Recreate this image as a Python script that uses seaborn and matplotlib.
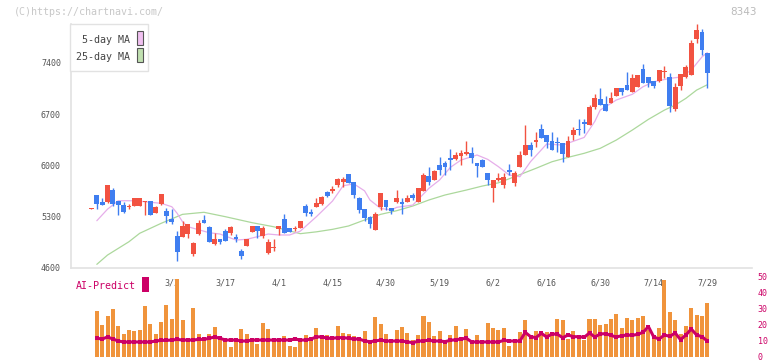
import numpy as np
import pandas as pd
import matplotlib
matplotlib.use("Agg")
import matplotlib.pyplot as plt
import seaborn as sns
from matplotlib.patches import Rectangle

# daily candles (index 0 .. 115)
opens = [5405, 5593, 5497, 5493, 5661, 5515, 5452, 5425, 5447, 5447,
         5500, 5511, 5351, 5466, 5379, 5265, 5033, 5023, 5060, 4791,
         5064, 5251, 5156, 4928, 4992, 5101, 5074, 5019, 4828, 4901,
         5092, 5169, 5037, 4805, 4870, 5124, 5261, 5138, 5130, 5142,
         5443, 5361, 5433, 5474, 5634, 5648, 5730, 5771, 5880, 5767,
         5548, 5402, 5292, 5115, 5425, 5525, 5411, 5502, 5484, 5502,
         5593, 5502, 5652, 5852, 5798, 6000, 6035, 6094, 6080, 6126,
         6158, 6163, 6035, 6071, 5898, 5693, 5798, 5734, 5935, 5761,
         5980, 6140, 6276, 6321, 6494, 6412, 6331, 6317, 6299, 6117,
         6412, 6485, 6586, 6549, 6799, 6904, 6836, 6845, 6950, 7055,
         7096, 7004, 7073, 7310, 7209, 7146, 7146, 7270, 7209, 6764,
         7087, 7200, 7232, 7720, 7820, 7537]
highs = [5415, 5593, 5552, 5730, 5689, 5515, 5500, 5475, 5552, 5552,
         5515, 5515, 5440, 5611, 5410, 5398, 5101, 5238, 5197, 4947,
         5247, 5320, 5170, 5074, 4992, 5124, 5174, 5056, 4850, 4992,
         5169, 5169, 5169, 4997, 4997, 5169, 5334, 5138, 5169, 5242,
         5470, 5402, 5548, 5584, 5652, 5716, 5830, 5840, 5885, 5767,
         5566, 5402, 5310, 5356, 5625, 5525, 5411, 5661, 5548, 5589,
         5625, 5685, 5898, 5976, 5935, 6108, 6062, 6222, 6176, 6208,
         6331, 6253, 6035, 6080, 5898, 5798, 5898, 5889, 6017, 5925,
         6190, 6549, 6317, 6458, 6563, 6412, 6454, 6390, 6299, 6399,
         6526, 6626, 6636, 6822, 6972, 7051, 6945, 6999, 7055, 7055,
         7273, 7246, 7232, 7382, 7209, 7146, 7301, 7355, 7255, 7128,
         7246, 7370, 7711, 7930, 7861, 7537]
lows = [5405, 5398, 5461, 5480, 5447, 5324, 5351, 5400, 5440, 5440,
        5320, 5315, 5345, 5460, 5215, 5197, 4696, 5023, 5010, 4764,
        5040, 5206, 4951, 4910, 4928, 4969, 5051, 4955, 4719, 4901,
        5092, 5010, 5001, 4791, 4824, 5046, 5070, 5092, 5101, 5142,
        5300, 5310, 5433, 5456, 5561, 5625, 5705, 5705, 5753, 5556,
        5343, 5238, 5138, 5115, 5384, 5384, 5338, 5484, 5338, 5502,
        5525, 5502, 5652, 5730, 5798, 5866, 5866, 5935, 6070, 5998,
        6140, 6026, 5843, 5975, 5730, 5502, 5790, 5689, 5866, 5716,
        5980, 6140, 6126, 6253, 6376, 6231, 6208, 6185, 6048, 6117,
        6344, 6412, 6440, 6549, 6768, 6822, 6745, 6845, 6950, 6963,
        7032, 7004, 7073, 7127, 7073, 7060, 7132, 7196, 6731, 6741,
        7028, 7187, 7232, 7666, 7506, 7059]
closes = [5415, 5474, 5461, 5730, 5474, 5461, 5365, 5440, 5552, 5552,
          5511, 5324, 5433, 5611, 5310, 5224, 4819, 5174, 5197, 4933,
          5206, 5206, 4951, 4988, 4955, 4969, 5156, 4988, 4760, 4992,
          5169, 5097, 5138, 4947, 4879, 5169, 5070, 5092, 5138, 5242,
          5343, 5338, 5484, 5566, 5575, 5675, 5807, 5807, 5761, 5593,
          5388, 5279, 5197, 5334, 5616, 5433, 5374, 5548, 5475, 5548,
          5556, 5685, 5866, 5775, 5921, 5935, 5976, 6071, 6144, 6163,
          6176, 6103, 5990, 5980, 5798, 5798, 5830, 5843, 5912, 5898,
          6144, 6276, 6208, 6344, 6376, 6321, 6208, 6299, 6158, 6331,
          6481, 6478, 6563, 6799, 6914, 6822, 6745, 6918, 7055, 7004,
          7032, 7187, 7232, 7127, 7119, 7087, 7301, 7278, 6813, 7073,
          7246, 7346, 7673, 7847, 7574, 7264]

# moving averages (index, value)
ma5_idx = [1, 3, 5, 8, 13, 15, 16, 17, 18, 22, 24, 27, 29, 31, 33, 35, 37, 39,
           42, 45, 47, 49, 51, 52, 54, 56, 57, 60, 63, 65, 67, 69, 72, 74, 76,
           78, 80, 82, 85, 88, 92, 94, 95, 98, 101, 103, 105, 108, 110, 112,
           114, 115]
ma5_val = [5242, 5400, 5515, 5515, 5480, 5433, 5343, 5228, 5160, 5078, 5060,
           4978, 4988, 5024, 5060, 5047, 5047, 5100, 5297, 5510, 5720, 5745,
           5650, 5525, 5410, 5388, 5425, 5456, 5684, 5798, 5970, 6071, 6140,
           6080, 5980, 5866, 5843, 6050, 6290, 6276, 6380, 6600, 6754, 6891,
           6970, 7073, 7141, 7187, 7205, 7300, 7480, 7540]
ma25_idx = [1, 3, 7, 9, 13, 17, 21, 25, 30, 34, 39, 42, 45, 48, 51, 54, 57, 60,
            63, 66, 70, 73, 76, 79, 83, 86, 89, 92, 95, 98, 101, 104, 107, 109,
            111, 113, 115]
ma25_val = [4646, 4773, 4955, 5070, 5206, 5329, 5357, 5297, 5215, 5160, 5065,
            5090, 5124, 5170, 5252, 5329, 5379, 5443, 5525, 5593, 5661, 5716,
            5760, 5843, 5958, 6048, 6108, 6163, 6231, 6344, 6481, 6627, 6754,
            6822, 6914, 7027, 7100]

# lower panel (candles 1 .. 115)
volume = [28.75, 20, 25.6, 30, 19.4, 14.4, 16.9, 16.25, 16.9, 31.9,
          20.6, 14.4, 21.9, 32.5, 23.75, 48.75, 23.1, 11.9, 30.6, 14.4,
          11.9, 14.4, 18.75, 11.9, 9.4, 6.25, 9.4, 17.5, 14.4, 10.6,
          8.1, 21.25, 17.5, 11.25, 11.9, 13.1, 6.9, 6.25, 9.4, 13.75,
          12.5, 18.1, 13.75, 13.75, 12.5, 19.4, 15, 14.4, 13.1, 11.25,
          16.25, 10.6, 25, 20.6, 14.4, 9.4, 16.9, 18.75, 15, 10.6,
          13.75, 25.6, 21.9, 13.1, 16.25, 8.1, 13.75, 19.4, 11.9, 17.5,
          8.1, 13.75, 8.1, 21.25, 18.1, 16.9, 18.1, 6.9, 9.4, 15.6,
          23.1, 11.25, 16.25, 15, 15.6, 15.6, 23.75, 23.1, 11.25, 16.25,
          13.75, 10.6, 23.75, 23.75, 20, 20.6, 23.75, 26.9, 18.1, 24.4,
          23.1, 24.4, 25.6, 16.9, 11.25, 18.1, 48.1, 28.1, 23.1, 14.4,
          19.4, 30.6, 26.25, 25.6, 33.75]
predict = [11.7, 11.25, 12.5, 11.25, 10, 9.4, 9.4, 9.4, 9.4, 9.4,
           9.4, 10, 10.4, 10.4, 10.6, 11, 10.6, 10.6, 10.6, 11,
           11, 11.7, 12.5, 11.7, 10.6, 10.6, 10.6, 10, 10, 10.6,
           10.6, 10.6, 10.6, 10.6, 10.6, 10.6, 10.6, 11.25, 10.6, 10.6,
           11.25, 12.5, 12.7, 11.7, 11.7, 12.1, 12.1, 11.7, 11.25, 11.25,
           10, 9.6, 10, 10.6, 10, 10, 10, 10, 9.4, 9,
           9.8, 10.2, 10.4, 10, 10, 9.6, 10.4, 10.8, 11.25, 11.7,
           9.4, 9.4, 9.4, 9.4, 9.4, 9.4, 10.4, 10, 10, 10,
           15.4, 12.7, 12.1, 14.8, 12.5, 14.4, 14.2, 12.1, 13.75, 12.7,
           12.7, 12.3, 15, 12.5, 14.4, 14.6, 13.5, 12.5, 13.3, 13.75,
           13.5, 14.2, 15.4, 19, 12.5, 11.25, 13.75, 12.9, 15, 10.8,
           13.75, 17.5, 13.75, 12.7, 10]

date_labels = ["3/3", "3/17", "4/1", "4/15", "4/30", "5/19", "6/2", "6/16",
               "6/30", "7/14", "7/29"]
date_idx = [15, 25, 35, 45, 55, 65, 75, 85, 95, 105, 115]
price_ticks = [4600, 5300, 6000, 6700, 7400]
vol_ticks = [0, 10, 20, 30, 40, 50]

sns.set_style("white")
plt.rcParams["font.family"] = ["DejaVu Sans Mono", "DejaVu Sans"]

W, H = 772, 361
fig = plt.figure(figsize=(W / 100, H / 100), dpi=100)

def fx(px):
    return px / W

def fy(py):
    return 1 - py / H

RED, BLUE = "#f25241", "#3f7ef0"
PINK, GREEN = "#e6aeea", "#acd89c"
GRID = "#e2e2e2"
MAG = "#cc0066"
XMIN, XMAX = -3.88, 123.4

ax = fig.add_axes([fx(70.7), fy(267.7), fx(752.3) - fx(70.7), fy(24) - fy(267.7)])
idx = np.arange(len(opens))
o, h, l, c = map(np.array, (opens, highs, lows, closes))
cols = [RED if cc >= oo else BLUE for oo, cc in zip(o, c)]

sns.lineplot(x=ma25_idx, y=ma25_val, ax=ax, color=GREEN, lw=0.9, zorder=1)
sns.lineplot(x=ma5_idx, y=ma5_val, ax=ax, color=PINK, lw=0.9, zorder=1)
ax.vlines(idx, l, h, colors=cols, lw=1, zorder=2)
body = np.maximum(np.abs(c - o), 16)
ax.bar(idx, body, bottom=np.minimum(o, c), width=0.9, color=cols, lw=0, zorder=3)

ax.set_xlim(XMIN, XMAX)
ax.set_ylim(4600, 7930)
for s in ["top", "right"]:
    ax.spines[s].set_visible(False)
for s in ["left", "bottom"]:
    ax.spines[s].set_color(GRID)
    ax.spines[s].set_linewidth(1.2)
ax.set_yticks(price_ticks)
ax.set_yticklabels([str(v) for v in price_ticks])
ax.tick_params(axis="y", direction="inout", length=8, width=1, color=GRID,
               labelsize=6, labelcolor="#555555", pad=3)
ax.set_xticks(date_idx)
ax.set_xticklabels(date_labels)
ax.tick_params(axis="x", length=0, labelsize=6, labelcolor="#555555", pad=8)
ax.set_xticks(np.linspace(XMIN, XMAX, 12), minor=True)
ax.tick_params(axis="x", which="minor", direction="inout", length=6, width=1, color=GRID)
ax.set_xlabel("")
ax.set_ylabel("")

# lower panel
ax2 = fig.add_axes([fx(70.7), fy(357), fx(752.3) - fx(70.7), fy(277) - fy(357)])
ax2.patch.set_alpha(0)
vol_x = idx[1:]
sns.barplot(x=vol_x, y=volume, ax=ax2, native_scale=True, color="#f0943c",
            saturation=1, errorbar=None, width=0.75, lw=0, zorder=1)
sns.lineplot(x=vol_x, y=predict, ax=ax2, color=MAG, lw=2.2, marker="s",
             markersize=2.5, markeredgewidth=0, zorder=2)
ax2.set_xlim(XMIN, XMAX)
ax2.set_ylim(0, 50)
for s in ax2.spines.values():
    s.set_visible(False)
ax2.set_xticks([])
ax2.yaxis.tick_right()
ax2.set_yticks(vol_ticks)
ax2.set_yticklabels([str(v) for v in vol_ticks])
ax2.tick_params(axis="y", length=0, labelsize=6, labelcolor=MAG, pad=4)
ax2.set_xlabel("")
ax2.set_ylabel("")

# texts and legend
fig.text(fx(14), fy(12), "(C)https://chartnavi.com/", fontsize=7.2, color="#c8c8c8",
         va="center", ha="left")
fig.text(fx(757), fy(12), "8343", fontsize=7.5, color="#bbbbbb", va="center",
         ha="right", family="DejaVu Sans")
fig.add_artist(Rectangle((fx(70.3), fy(71)), fx(78), fy(24) - fy(71), transform=fig.transFigure,
                         facecolor="white", edgecolor=GRID, lw=1, zorder=5))
fig.text(fx(130), fy(40), "5-day MA", fontsize=7.2, color="#444444", va="center",
         ha="right", zorder=6)
fig.text(fx(130), fy(57), "25-day MA", fontsize=7.2, color="#444444", va="center",
         ha="right", zorder=6)
fig.add_artist(Rectangle((fx(136.5), fy(45)), fx(6), fy(31) - fy(45), transform=fig.transFigure,
                         facecolor="#f0c0f0", edgecolor="#555555", lw=0.8, zorder=6))
fig.add_artist(Rectangle((fx(136.5), fy(62)), fx(6), fy(48) - fy(62), transform=fig.transFigure,
                         facecolor="#c0e0b0", edgecolor="#555555", lw=0.8, zorder=6))
fig.text(fx(76), fy(286), "AI-Predict", fontsize=7.2, color=MAG, va="center", ha="left")
fig.add_artist(Rectangle((fx(142), fy(292)), fx(7), fy(277) - fy(292), transform=fig.transFigure,
                         facecolor=MAG, edgecolor="none", zorder=6))

fig.savefig("out.png", dpi=100)
